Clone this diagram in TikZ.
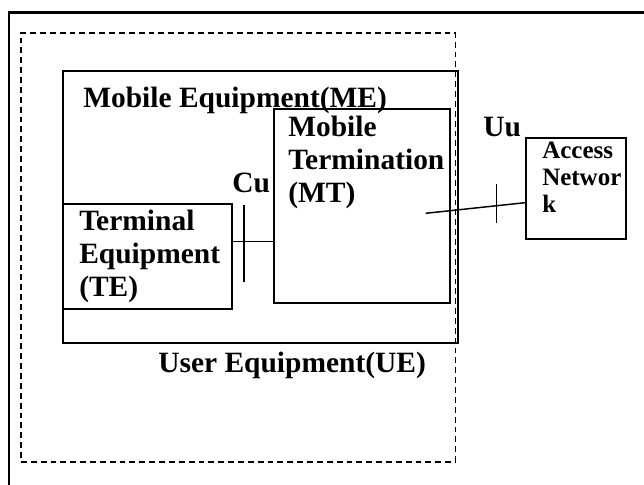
\documentclass[tikz,border=0pt]{standalone}
\usepackage{fontspec}
\setmainfont{Liberation Serif}
\usetikzlibrary{positioning}

\tikzset{
    unit/.style={draw, line width=1.4pt, rectangle, inner sep=0pt, anchor=north west},
    boxsize/.style 2 args={minimum width=#1*0.75pt, minimum height=#2*0.75pt},
    boxtext/.style={anchor=base west, inner sep=0pt, align=left,
        font=\bfseries\fontsize{22.1}{24.75}\selectfont},
    smalltext/.style={boxtext, font=\bfseries\fontsize{18.75}{20.25}\selectfont},
    link/.style={line width=1.1pt},
}

\begin{document}
\begin{tikzpicture}[x=0.75pt, y=-0.75pt]
    \useasboundingbox (0,0) rectangle (644,485);

    % Outer frame, only its top and left sides are on the page
    \draw[line width=1.8pt] (644,12.7) -- (9,12.7) -- (9,485);

    % Boxes
    \node[unit, line width=1.4pt, dash pattern=on 4.4pt off 3pt, boxsize={434.5}{428.7}] (ue) at (20,32) {};
    \node[unit, boxsize={395}{272.3}] (me) at (62,70) {};
    \node[unit, boxsize={176}{193.7}] (mt) at (273,108) {};
    \node[unit, boxsize={168.2}{105.3}] (te) at (62.5,202.7) {};
    \node[unit, boxsize={100}{101}] (an) at (525,137) {};

    % Box labels (multi-line ones sit on their last line)
    \node[boxtext] (me text) at (83,108) {Mobile Equipment(ME)};
    \node[boxtext] (mt text) at (288,202.5) {Mobile\\Termination\\(MT)};
    \node[boxtext] (te text) at (79,296.5) {Terminal\\Equipment\\(TE)};
    \node[smalltext] (an text) at (542,213) {Access\\Networ\\k};
    \node[boxtext] (ue text) at (158,373) {User Equipment(UE)};

    % Reference points
    \node[boxtext] (cu) at (232,193) {Cu};
    \node[boxtext] (uu) at (483,137) {Uu};

    % Cu interface: TE to MT
    \coordinate (cu level) at (0,241.3);
    \coordinate (cu tick) at (244,241.3);
    \draw[link] (te.east |- cu level) -- (mt.west |- cu level);
    \draw[link] (cu tick) ++(0,-36.3) -- ++(0,76.7);

    % Uu interface: MT to access network
    \coordinate (uu start) at (425.7,213.3);
    \coordinate (uu end) at (an.west |- 0,202.7);
    \coordinate (uu tick) at (496.6,205.7);
    \draw[link] (uu start) -- (uu end);
    \draw[link] (uu tick) ++(0,-21.7) -- ++(0,39.3);
\end{tikzpicture}
\end{document}
